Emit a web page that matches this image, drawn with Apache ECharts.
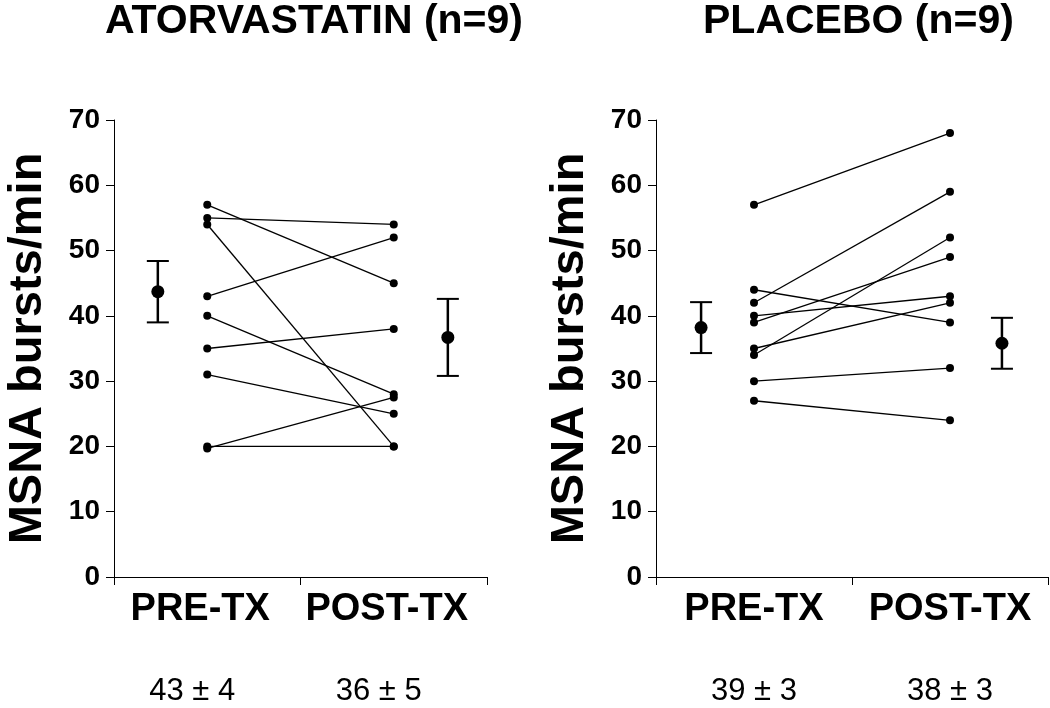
<!DOCTYPE html>
<html>
<head>
<meta charset="utf-8">
<script src="https://cdn.jsdelivr.net/npm/echarts@6/dist/echarts.min.js"></script>
<style>html,body{margin:0;padding:0;background:#fff}#c{width:1050px;height:708px}</style>
</head>
<body>
<div id="c"></div>
<script>
// ---- data ----
const categories = ['PRE-TX', 'POST-TX'];
const panelTitles = ['ATORVASTATIN (n=9)', 'PLACEBO (n=9)'];
const yTicks = [0, 10, 20, 30, 40, 50, 60, 70];
const yLabel = 'MSNA bursts/min';

const atorPre  = [57, 55, 54, 43, 40, 35, 31, 20, 19.7];
const atorPost = [45, 54, 20, 52, 28, 38, 25, 20, 27.5];
const atorMean = [43.7, 36.7];
const atorErr  = [4.7, 5.9];
const atorStats = ['43 ± 4', '36 ± 5'];

const placPre  = [57, 44, 42, 40, 39, 35, 34, 30, 27];
const placPost = [68, 39, 59, 43, 49, 42, 52, 32, 24];
const placMean = [38.2, 35.8];
const placErr  = [3.9, 3.9];
const placStats = ['39 ± 3', '38 ± 3'];

// ---- chart ----
const FONT = 'Liberation Sans, Arial, sans-serif';
const chart = echarts.init(document.getElementById('c'));

const grids = [
  { left: 114, top: 120, width: 373, height: 457 },
  { left: 656, top: 120, width: 392, height: 457 }
];
const meanX = [[0.47, 3.58], [0.46, 3.53]];
const labelShift = [[14, 30], [0, 0]];

const panels = [
  { pre: atorPre, post: atorPost, mean: atorMean, err: atorErr, stats: atorStats },
  { pre: placPre, post: placPost, mean: placMean, err: placErr, stats: placStats }
];

const xAxis = [], yAxis = [], series = [];
panels.forEach((p, i) => {
  xAxis.push({
    type: 'category', gridIndex: i, data: categories, boundaryGap: true,
    axisLine: { lineStyle: { color: '#000', width: 1 } },
    axisTick: { show: true, length: 8, lineStyle: { color: '#000' } },
    axisLabel: {
      margin: 8, color: '#000',
      formatter: (v, idx) => '{a|' + v + '}\n{b|' + p.stats[idx] + '}',
      rich: {
        a: { fontFamily: FONT, fontWeight: 'bold', fontSize: 38, lineHeight: 50, color: '#000',
             padding: [0, labelShift[i][0], 0, 0] },
        b: { fontFamily: FONT, fontSize: 31, lineHeight: 112, color: '#000',
             padding: [0, labelShift[i][1], 0, 0] }
      }
    }
  });
  xAxis.push({ type: 'value', gridIndex: i, min: 0, max: 4, show: false });
  yAxis.push({
    type: 'value', gridIndex: i, min: 0, max: 70, interval: 10,
    name: yLabel, nameLocation: 'middle', nameRotate: 90, nameGap: 62,
    nameTextStyle: { fontFamily: FONT, fontWeight: 'bold', fontSize: 47, color: '#000' },
    splitLine: { show: false },
    axisLine: { show: true, lineStyle: { color: '#000', width: 1 } },
    axisTick: { show: true, length: 8, lineStyle: { color: '#000' } },
    axisLabel: { margin: 14, fontFamily: FONT, fontWeight: 'bold', fontSize: 28, color: '#000',
                 formatter: v => yTicks.includes(v) ? String(v) : '' }
  });
  const xIdx = i * 2 + 1;
  p.pre.forEach((v, k) => {
    series.push({
      type: 'line', xAxisIndex: xIdx, yAxisIndex: i,
      data: [[1, v], [3, p.post[k]]],
      symbol: 'circle', symbolSize: 8, showSymbol: true,
      lineStyle: { color: '#000', width: 1.3 },
      itemStyle: { color: '#000' },
      silent: true, animation: false
    });
  });
  series.push({
    type: 'custom', xAxisIndex: xIdx, yAxisIndex: i, animation: false, silent: true,
    data: p.mean.map((m, k) => [meanX[i][k], m, m - p.err[k], m + p.err[k]]),
    renderItem: (params, api) => {
      const c = api.coord([api.value(0), api.value(1)]);
      const lo = api.coord([api.value(0), api.value(2)]);
      const hi = api.coord([api.value(0), api.value(3)]);
      const hw = 11;
      const st = { stroke: '#000', lineWidth: 2.5 };
      return {
        type: 'group', children: [
          { type: 'line', shape: { x1: c[0], y1: lo[1], x2: c[0], y2: hi[1] }, style: st },
          { type: 'line', shape: { x1: c[0] - hw, y1: lo[1], x2: c[0] + hw, y2: lo[1] }, style: { stroke: '#000', lineWidth: 2 } },
          { type: 'line', shape: { x1: c[0] - hw, y1: hi[1], x2: c[0] + hw, y2: hi[1] }, style: { stroke: '#000', lineWidth: 2 } },
          { type: 'circle', shape: { cx: c[0], cy: c[1], r: 6.5 }, style: { fill: '#000' } }
        ]
      };
    }
  });
});

chart.setOption({
  backgroundColor: '#fff',
  animation: false,
  grid: grids,
  xAxis, yAxis, series,
  graphic: [
    { type: 'text', left: 105, top: 1, style: { text: panelTitles[0], fontFamily: FONT, fontWeight: 'bold', fontSize: 41, fill: '#000' } },
    { type: 'text', left: 703, top: 1, style: { text: panelTitles[1], fontFamily: FONT, fontWeight: 'bold', fontSize: 41, fill: '#000' } }
  ]
});
</script>
</body>
</html>
